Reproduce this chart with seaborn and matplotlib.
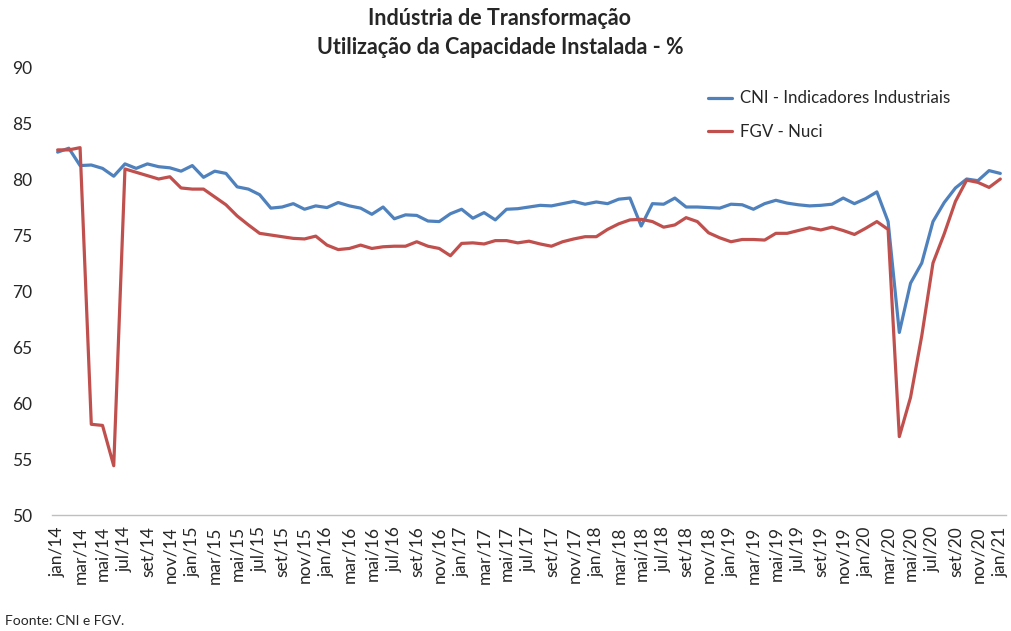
import numpy as np
import pandas as pd
import matplotlib
matplotlib.use("Agg")
import matplotlib.pyplot as plt
import seaborn as sns

# meses jan/14 .. jan/21
meses = ["jan", "fev", "mar", "abr", "mai", "jun", "jul", "ago", "set", "out", "nov", "dez"]
anos = ["14", "15", "16", "17", "18", "19", "20", "21"]

cni = [82.4, 82.75, 81.2, 81.25, 80.95, 80.25, 81.35, 80.95, 81.35, 81.1, 81.0, 80.7,
       81.2, 80.15, 80.7, 80.5, 79.3, 79.1, 78.6, 77.4, 77.5, 77.8, 77.3, 77.6,
       77.45, 77.9, 77.6, 77.4, 76.85, 77.5, 76.45, 76.8, 76.75, 76.25, 76.2, 76.9,
       77.3, 76.5, 77.0, 76.35, 77.3, 77.35, 77.5, 77.65, 77.6, 77.8, 78.0, 77.75,
       77.95, 77.8, 78.2, 78.3, 75.8, 77.8, 77.75, 78.3, 77.5, 77.5, 77.45, 77.4,
       77.75, 77.7, 77.3, 77.8, 78.1, 77.85, 77.7, 77.6, 77.65, 77.75, 78.3, 77.8,
       78.25, 78.85, 76.2, 66.3, 70.7, 72.5, 76.2, 77.9, 79.2, 80.0, 79.85, 80.75,
       80.5]

fgv = [82.6, 82.6, 82.8, 58.1, 58.0, 54.4, 80.9, 80.6, 80.3, 80.0, 80.2, 79.2,
       79.1, 79.1, 78.4, 77.7, 76.7, 75.9, 75.15, 75.0, 74.85, 74.7, 74.65, 74.9,
       74.1, 73.7, 73.8, 74.1, 73.8, 73.95, 74.0, 74.0, 74.4, 74.0, 73.8, 73.15,
       74.25, 74.3, 74.2, 74.5, 74.5, 74.3, 74.45, 74.2, 74.0, 74.4, 74.65, 74.85,
       74.85, 75.5, 76.0, 76.35, 76.4, 76.2, 75.7, 75.9, 76.55, 76.2, 75.2, 74.75,
       74.4, 74.6, 74.6, 74.55, 75.15, 75.15, 75.4, 75.65, 75.45, 75.7, 75.4, 75.05,
       75.6, 76.2, 75.5, 57.0, 60.5, 66.0, 72.5, 75.1, 78.0, 79.9, 79.7, 79.25,
       80.0]

rotulos = [m + "/" + a for a in anos for m in meses][:len(cni)]

df = pd.DataFrame({
    "mes": list(range(len(cni))) * 2,
    "valor": cni + fgv,
    "serie": ["CNI - Indicadores Industriais"] * len(cni) + ["FGV - Nuci"] * len(fgv),
})

sns.set_style("white")
plt.rcParams["font.family"] = ["Lato", "DejaVu Sans"]

fig = plt.figure(figsize=(10.12, 6.31), dpi=100)
ax = fig.add_axes([0.0514, 0.1838, 0.9426, 0.71])

sns.lineplot(data=df, x="mes", y="valor", hue="serie",
             palette=["#4F81BD", "#C0504D"], linewidth=2.3, ax=ax)

ax.set_xlim(-0.5, len(cni) - 0.5)
ax.set_ylim(50, 90)
ax.set_yticks(range(50, 91, 5))
ax.set_xticks(range(0, len(cni), 2))
ax.set_xticklabels(rotulos[::2], rotation=90, fontsize=12.5)
ax.tick_params(axis="y", labelsize=12.5, length=0, pad=14)
ax.tick_params(axis="x", length=0, pad=8)
ax.set_xlabel("")
ax.set_ylabel("")

for s in ["top", "right", "left"]:
    ax.spines[s].set_visible(False)
ax.spines["bottom"].set_color("#BFBFBF")
ax.spines["bottom"].set_linewidth(1)

ax.legend(frameon=False, loc="upper left", bbox_to_anchor=(700 / 1012, 1 - 82 / 631),
          bbox_transform=fig.transFigure, fontsize=12.2, handlelength=1.4,
          labelspacing=1.05, borderpad=0, handletextpad=0.45)

fig.text(0.494, 0.988, "Indústria de Transformação\nUtilização da Capacidade Instalada - %",
         ha="center", va="top", fontsize=15.5, fontweight="bold", linespacing=1.5)
fig.text(0.005, 0.006, "Foonte: CNI e FGV.", ha="left", va="bottom", fontsize=10)

fig.savefig("out.png", dpi=100)
